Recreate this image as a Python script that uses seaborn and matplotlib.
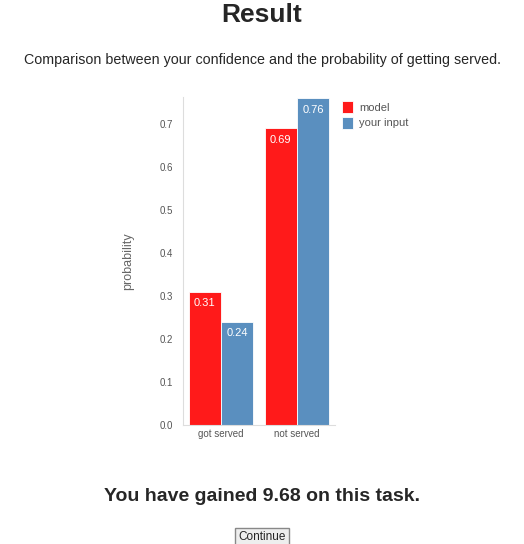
import pandas as pd
import matplotlib
matplotlib.use("Agg")
import matplotlib.pyplot as plt
import seaborn as sns

categories = ["got served", "not served"]
series = ["model", "your input"]
model_values = [0.31, 0.69]
input_values = [0.24, 0.76]
palette = {"model": "#ff1a1a", "your input": "#5a8fbf"}

df = pd.DataFrame({
    "outcome": categories * 2,
    "source": [series[0]] * 2 + [series[1]] * 2,
    "probability": model_values + input_values,
})

sns.set_style("white")
plt.rcParams["font.family"] = ["Liberation Sans", "DejaVu Sans"]

fig = plt.figure(figsize=(5.24, 5.44), dpi=100)
ax = fig.add_axes([0.349, 0.219, 0.29, 0.603])
sns.barplot(data=df, x="outcome", y="probability", hue="source", palette=palette,
            width=0.85, ax=ax, saturation=1, edgecolor="white", linewidth=0.6)

for cont in ax.containers:
    labels = [f"{v:.2f}" for v in cont.datavalues]
    ax.bar_label(cont, labels=labels, padding=-12, color="white", fontsize=8)

ax.set_ylim(0, 0.763)
ax.set_yticks([i / 10 for i in range(8)])
ax.set_yticklabels([f"{i / 10:.1f}" for i in range(8)], fontsize=7, color="#555555")
ax.tick_params(axis="x", labelsize=7, labelcolor="#555555", length=0, pad=3)
ax.tick_params(axis="y", length=3, color="#dddddd", pad=4)
ax.set_xlabel("")
ax.set_ylabel("probability", fontsize=9, color="#666666", labelpad=18)
for s in ["top", "right"]:
    ax.spines[s].set_visible(False)
ax.spines["left"].set_color("#dddddd")
ax.spines["bottom"].set_color("#dddddd")

ax.legend(loc="upper left", bbox_to_anchor=(1.02, 1.0), frameon=False, fontsize=8,
          handlelength=1.0, handleheight=1.3, handletextpad=0.5, labelspacing=0.3,
          labelcolor="#555555", borderaxespad=0)

fig.text(0.5, 0.972, "Result", ha="center", va="center", fontsize=19, fontweight="bold")
fig.text(0.5, 0.89, "Comparison between your confidence and the probability of getting served.",
         ha="center", va="center", fontsize=10.3)
fig.text(0.5, 0.088, "You have gained 9.68 on this task.", ha="center", va="center",
         fontsize=14, fontweight="bold")
fig.text(0.5, 0.012, "Continue", ha="center", va="center", fontsize=8.5,
         bbox=dict(boxstyle="square,pad=0.3", fc="#eeeeee", ec="#888888"))

fig.savefig("out.png", dpi=100)
